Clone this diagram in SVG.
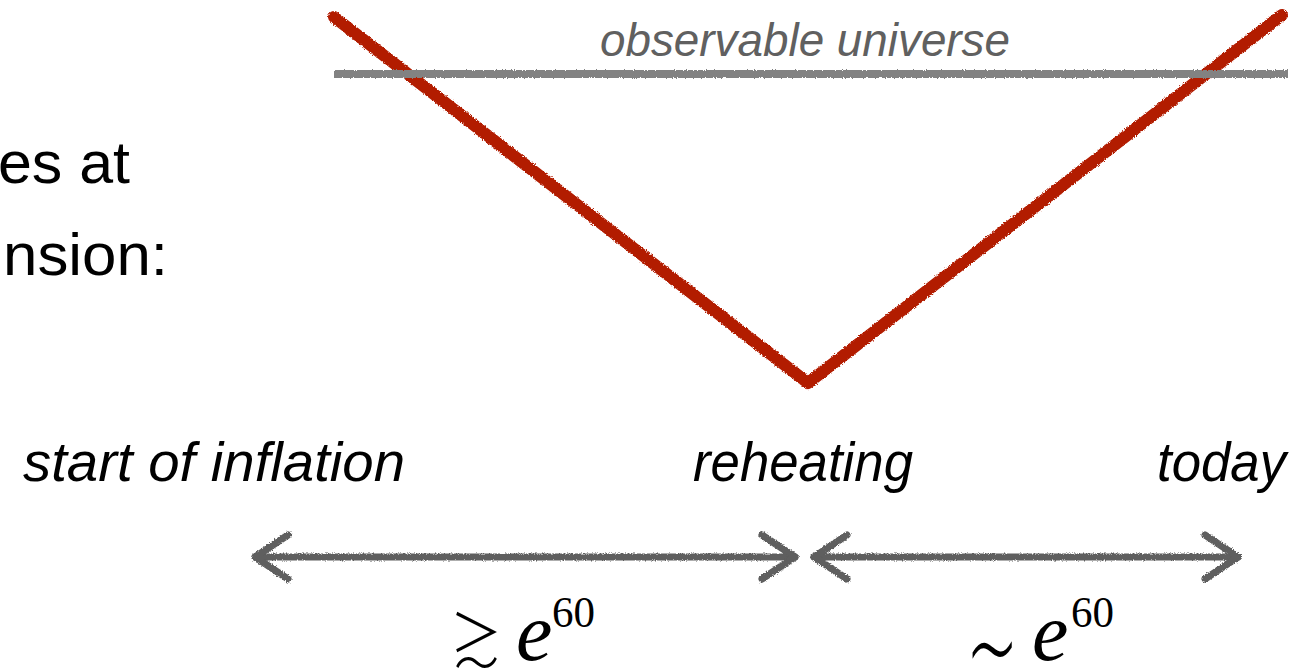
<svg xmlns="http://www.w3.org/2000/svg" width="1313" height="672" viewBox="0 0 1313 672">
<style>
.big{font-family:"Liberation Sans",Arial,sans-serif;font-size:60px;fill:#000}
.lab{font-family:"Liberation Sans",Arial,sans-serif;font-style:italic;font-size:55px;fill:#000}
.obs{font-family:"Liberation Sans",Arial,sans-serif;font-style:italic;font-size:47px;fill:#606060}
.math{font-family:"Liberation Serif","DejaVu Serif",serif;fill:#000}
.sym{font-family:"Noto Sans CJK JP","DejaVu Sans",sans-serif;font-weight:200;fill:#000}
.red{fill:none;stroke:#b21c06;stroke-width:12;stroke-linecap:round;stroke-linejoin:round}
.hz{fill:none;stroke:#828282;stroke-width:8}
.arr{fill:none;stroke:#5e5e5e;stroke-width:7;stroke-linecap:round}
</style>
<defs>
<filter id="rough" filterUnits="userSpaceOnUse" x="0" y="0" width="1313" height="672">
<feTurbulence type="fractalNoise" baseFrequency="0.9" numOctaves="2" seed="3" result="n"/>
<feDisplacementMap in="SourceGraphic" in2="n" scale="3.5" xChannelSelector="R" yChannelSelector="G"/>
</filter>
<marker id="chev" viewBox="-40 -28 46 56" refX="0" refY="0" markerWidth="46" markerHeight="56" markerUnits="userSpaceOnUse" orient="auto-start-reverse">
<path d="M -33 -22 L 0 0 L -33 22" fill="none" stroke="#5e5e5e" stroke-width="7" stroke-linecap="round" stroke-linejoin="round"/>
</marker>
</defs>
<g id="left-text">
<text class="big" x="-2" y="183" textLength="132" lengthAdjust="spacingAndGlyphs">es at</text>
<text class="big" x="3" y="275" textLength="165" lengthAdjust="spacingAndGlyphs">nsion:</text>
</g>
<g id="v-curve" filter="url(#rough)">
<path class="red" d="M 334 17 L 808 383 L 1282 15"/>
</g>
<g id="horizon" filter="url(#rough)">
<line class="hz" x1="334" y1="74" x2="1288" y2="74"/>
</g>
<g id="observable-universe">
<text class="obs" x="600" y="56" textLength="410" lengthAdjust="spacingAndGlyphs">observable universe</text>
</g>
<g id="start-of-inflation">
<text class="lab" x="23" y="481" textLength="382" lengthAdjust="spacingAndGlyphs">start of inflation</text>
</g>
<g id="reheating">
<text class="lab" x="693" y="481" textLength="220" lengthAdjust="spacingAndGlyphs">reheating</text>
</g>
<g id="today">
<text class="lab" x="1157" y="481" textLength="129" lengthAdjust="spacingAndGlyphs">today</text>
</g>
<g id="connectors" filter="url(#rough)">
<line class="arr" x1="255" y1="557" x2="795" y2="557" marker-start="url(#chev)" marker-end="url(#chev)"/>
<line class="arr" x1="814" y1="557" x2="1238" y2="557" marker-start="url(#chev)" marker-end="url(#chev)"/>
</g>
<g id="label-left">
<text class="sym" font-size="60" transform="translate(450,664) scale(0.88,1.08)">≳</text>
<text class="math" x="516" y="660" font-size="82" font-style="italic">e</text>
<text class="math" x="552" y="627" font-size="44" textLength="43" lengthAdjust="spacingAndGlyphs">60</text>
</g>
<g id="label-right">
<text class="sym" font-size="60" transform="translate(966,696) scale(1.37,2.2)">∼</text>
<text class="math" x="1032" y="660" font-size="82" font-style="italic">e</text>
<text class="math" x="1071" y="627" font-size="44" textLength="43" lengthAdjust="spacingAndGlyphs">60</text>
</g>
</svg>
